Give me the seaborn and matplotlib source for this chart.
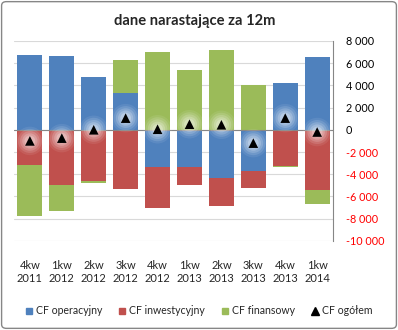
import numpy as np
import pandas as pd
import matplotlib
matplotlib.use("Agg")
import matplotlib.pyplot as plt
from matplotlib.lines import Line2D
from matplotlib.patches import FancyBboxPatch
import seaborn as sns

categories = ["4kw\n2011", "1kw\n2012", "2kw\n2012", "3kw\n2012", "4kw\n2012",
              "1kw\n2013", "2kw\n2013", "3kw\n2013", "4kw\n2013", "1kw\n2014"]
cf_operacyjny = [6750, 6650, 4750, 3300, -3350, -3350, -4350, -3700, 4230, 6550]
cf_inwestycyjny = [-3200, -4950, -4650, -5300, -3650, -1600, -2500, -1500, -3250, -5450]
cf_finansowy = [-4600, -2400, -150, 3000, 7000, 5400, 7200, 4000, -60, -1250]
cf_ogolem = [-1000, -750, 0, 1050, 50, 500, 450, -1200, 1050, -200]
series_names = ["CF operacyjny", "CF inwestycyjny", "CF finansowy"]
total_name = "CF ogółem"
yticks = [-10000, -8000, -6000, -4000, -2000, 0, 2000, 4000, 6000, 8000]
title = "dane narastające za 12m"

colors = ["#4F81BD", "#C0504D", "#9BBB59"]

sns.set_theme(style="white")
plt.rcParams["font.family"] = ["Lato", "DejaVu Sans"]

fig = plt.figure(figsize=(3.98, 3.30), dpi=100)
ax = fig.add_axes([0.035, 0.27, 0.802, 0.606])

df = pd.DataFrame({"cat": categories, "op": cf_operacyjny, "inw": cf_inwestycyjny,
                   "fin": cf_finansowy, "tot": cf_ogolem})

pos = np.zeros(len(categories))
neg = np.zeros(len(categories))
for col, name, color in zip(["op", "inw", "fin"], series_names, colors):
    vals = df[col].to_numpy(dtype=float)
    bottoms = np.where(vals >= 0, pos, neg)
    sns.barplot(data=df, x="cat", y=col, order=categories, color=color,
                saturation=1, width=0.78, bottom=bottoms, ax=ax, linewidth=0,
                errorbar=None)
    pos = pos + np.where(vals >= 0, vals, 0)
    neg = neg + np.where(vals < 0, vals, 0)

# soft glow around total markers
for s, a in [(420, 0.08), (300, 0.12), (200, 0.16), (120, 0.2), (60, 0.25)]:
    sns.scatterplot(data=df, x="cat", y="tot", s=s, color="white", alpha=a,
                    edgecolor="none", ax=ax, zorder=4, legend=False)
sns.scatterplot(data=df, x="cat", y="tot", marker="^", s=48, color="black",
                edgecolor="none", ax=ax, zorder=5, legend=False)

ax.set_ylim(-10000, 8000)
ax.set_xlim(-0.5, len(categories) - 0.5)
ax.set_yticks(yticks)
ax.yaxis.tick_right()
ax.set_yticklabels([f"{v:,}".replace(",", " ") for v in yticks], fontsize=7.8)
for lbl, v in zip(ax.get_yticklabels(), yticks):
    lbl.set_color("#FF0000" if v < 0 else "black")
ax.tick_params(axis="y", length=0, pad=9)
ax.tick_params(axis="x", length=0, pad=14, labelsize=8)
ax.set_xlabel("")
ax.set_ylabel("")
ax.grid(axis="y", color="#D9D9D9", linewidth=0.8, zorder=0)
ax.set_axisbelow(True)
ax.axhline(0, color="#868686", linewidth=0.8, zorder=3)
for sp in ["left", "top", "bottom"]:
    ax.spines[sp].set_visible(False)
ax.spines["right"].set_color("#868686")
ax.spines["right"].set_linewidth(0.8)

fig.text(0.49, 0.935, title, ha="center", va="center", fontsize=10.6,
         fontweight="bold")

handles = [Line2D([], [], marker="s", linestyle="", color=c, markersize=4.5)
           for c in colors]
handles.append(Line2D([], [], marker="^", linestyle="", color="black", markersize=6))
fig.legend(handles, series_names + [total_name], loc="center",
           bbox_to_anchor=(0.5, 0.058), ncol=4, frameon=False, fontsize=7.6,
           handlelength=0.6, handletextpad=0.35, columnspacing=1.6)

border = FancyBboxPatch((0.004, 0.005), 0.992, 0.99, boxstyle="round,pad=0,rounding_size=0.012",
                        transform=fig.transFigure, fill=False, edgecolor="#868686",
                        linewidth=1.0)
fig.patches.append(border)

fig.savefig("out.png", dpi=100)
